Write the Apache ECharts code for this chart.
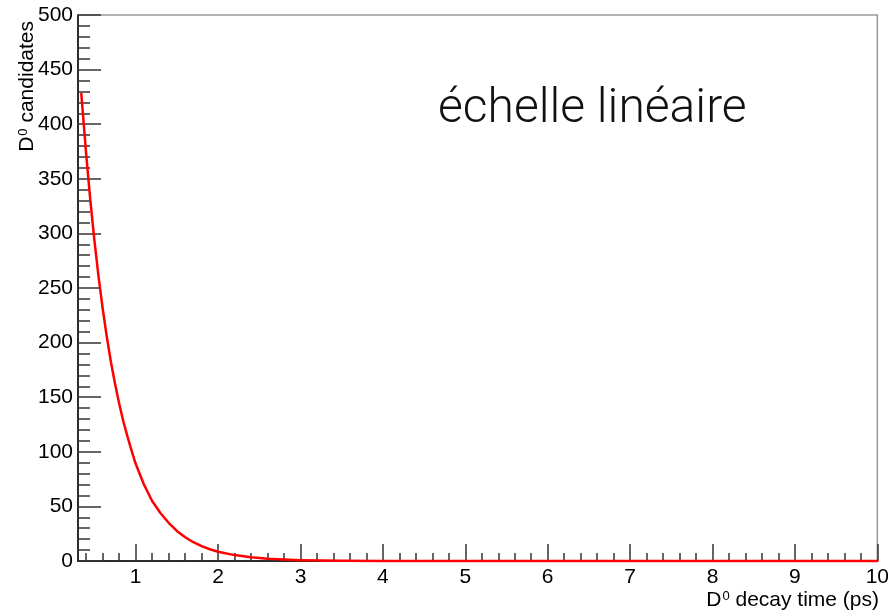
<!DOCTYPE html>
<html><head><meta charset="utf-8">
<script src="https://cdn.jsdelivr.net/npm/echarts@6/dist/echarts.min.js"></script>
<style>html,body{margin:0;padding:0;background:#fff}#c{width:892px;height:613px}</style>
</head><body><div id="c"></div>
<script>
// Decay times (ps) and candidate counts
const decayTimes = [0.34,0.40,0.45,0.50,0.55,0.60,0.65,0.70,0.75,0.80,0.85,0.90,0.95,1.00,
  1.10,1.20,1.30,1.40,1.50,1.60,1.70,1.80,1.90,2.00,2.20,2.40,2.60,2.80,3.00,3.50,4.00,
  5.00,6.00,7.00,8.00,9.00,10.00];
const candidates = [428,372,330,293,260,231,205,182,162,144,128,114,101,89,
  70,55,44,35,27.5,21.8,17.2,13.6,10.8,8.5,5.4,3.4,2.1,1.3,0.8,0.3,0.1,
  0,0,0,0,0,0];
const xMajorTicks = [1,2,3,4,5,6,7,8,9,10];
const xMinorTicks = [0.4,0.6,0.8,1.2,1.4,1.6,1.8,2.2,2.4,2.6,2.8,3.2,3.4,3.6,3.8,
  4.2,4.4,4.6,4.8,5.2,5.4,5.6,5.8,6.2,6.4,6.6,6.8,7.2,7.4,7.6,7.8,8.2,8.4,8.6,8.8,
  9.2,9.4,9.6,9.8];
const xRange = [0.3, 10];
const yRange = [0, 500];
const yInterval = 50;
const annotation = 'échelle linéaire';

const chart = echarts.init(document.getElementById('c'));
const axisFont = 'Liberation Sans, Arial, Helvetica, sans-serif';
const tickColor = '#333';
chart.setOption({
  animation: false,
  backgroundColor: '#fff',
  grid: { left: 78, right: 12, top: 15, bottom: 52, show: true, borderColor: '#999', borderWidth: 1.5, backgroundColor: 'transparent' },
  xAxis: [{
    type: 'value', min: xRange[0], max: xRange[1],
    axisLine: { show: true, onZero: false, lineStyle: { color: '#000', width: 1.5 } },
    axisTick: { show: true, inside: true, length: 17, customValues: xMajorTicks, lineStyle: { color: tickColor, width: 1.5 } },
    axisLabel: { show: true, customValues: xMajorTicks, margin: 6, color: '#000', fontSize: 21, fontFamily: axisFont },
    splitLine: { show: false }
  }, {
    type: 'value', min: xRange[0], max: xRange[1], position: 'bottom',
    axisLine: { show: false },
    axisTick: { show: true, inside: true, length: 8, customValues: xMinorTicks, lineStyle: { color: tickColor, width: 1.5 } },
    axisLabel: { show: false },
    splitLine: { show: false }
  }],
  yAxis: {
    type: 'value', min: yRange[0], max: yRange[1], interval: yInterval,
    axisLine: { show: true, lineStyle: { color: '#000', width: 1.5 } },
    axisTick: { show: true, inside: true, length: 23, lineStyle: { color: tickColor, width: 1.5 } },
    minorTick: { show: true, splitNumber: 5, length: 12, lineStyle: { color: tickColor, width: 1.5 } },
    axisLabel: { margin: 5, color: '#000', fontSize: 21, fontFamily: axisFont },
    splitLine: { show: false }
  },
  series: [{
    type: 'line', xAxisIndex: 0,
    data: decayTimes.map((t, i) => [t, candidates[i]]),
    showSymbol: false, smooth: false, clip: false,
    lineStyle: { color: '#ff0000', width: 2.5, join: 'round', cap: 'round' }, z: 5
  }],
  graphic: [
    { type: 'text', x: 438, y: 110, style: { text: annotation, fill: '#111', fontSize: 48, fontWeight: 300, fontFamily: 'Roboto, Lato, sans-serif', verticalAlign: 'middle', align: 'left' } },
    { type: 'text', x: 879, y: 600, style: {
      text: 'D{s|0} decay time (ps)', fill: '#000', fontSize: 21, fontFamily: axisFont, align: 'right', verticalAlign: 'middle',
      rich: { s: { fontSize: 13, fontFamily: axisFont, verticalAlign: 'top', fill: '#000', padding: [0, 0, 6, 1] } } } },
    { type: 'text', x: 27, y: 21, rotation: Math.PI / 2, style: {
      text: 'D{s|0} candidates', fill: '#000', fontSize: 21, fontFamily: axisFont, align: 'right', verticalAlign: 'middle',
      rich: { s: { fontSize: 13, fontFamily: axisFont, verticalAlign: 'top', fill: '#000', padding: [0, 0, 6, 1] } } } }
  ]
});
</script>
</body></html>
